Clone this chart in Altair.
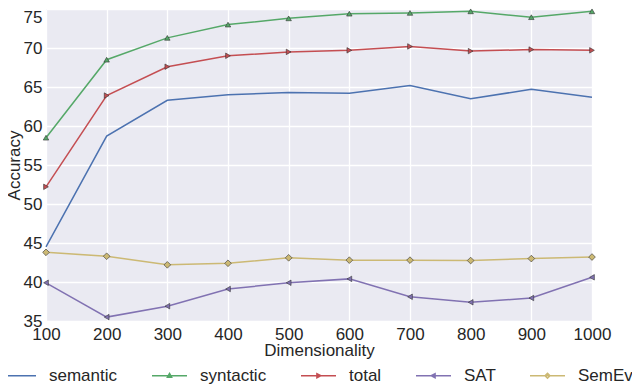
import altair as alt
import pandas as pd

dims = [100, 200, 300, 400, 500, 600, 700, 800, 900, 1000]
y_ticks = [35, 40, 45, 50, 55, 60, 65, 70, 75]
series_names = ["semantic", "syntactic", "total", "SAT", "SemEval"]
semantic = [44.5, 58.7, 63.3, 64.0, 64.3, 64.2, 65.2, 63.5, 64.7, 63.7]
syntactic = [58.5, 68.5, 71.3, 73.0, 73.8, 74.4, 74.5, 74.7, 73.95, 74.7]
total = [52.2, 63.9, 67.6, 69.0, 69.5, 69.7, 70.2, 69.6, 69.8, 69.7]
sat = [39.9, 35.5, 36.9, 39.1, 39.9, 40.4, 38.1, 37.4, 37.95, 40.6]
semeval = [43.8, 43.3, 42.2, 42.4, 43.1, 42.8, 42.8, 42.75, 43.0, 43.2]
colors = ["#4C72B0", "#55A868", "#C44E52", "#8172B2", "#CCB974"]
shapes = [None, "triangle-up", "triangle-right", "triangle-left", "diamond"]
marker_sizes = [0, 30, 30, 30, 45]

values = [semantic, syntactic, total, sat, semeval]
rows = []
for name, vals in zip(series_names, values):
    for d, v in zip(dims, vals):
        rows.append({"dim": d, "acc": v, "series": name})
df = pd.DataFrame(rows)

FONT = "Liberation Sans"
TXT = "#262626"

legend_shape = (
    "datum.value == 'syntactic' ? 'M-1,0H1M0,-0.13L0.12,0.09L-0.12,0.09Z' : "
    "datum.value == 'total' ? 'M-1,0H1M0.13,0L-0.09,-0.12L-0.09,0.12Z' : "
    "datum.value == 'SAT' ? 'M-1,0H1M-0.13,0L0.09,-0.12L0.09,0.12Z' : "
    "datum.value == 'SemEval' ? 'M-1,0H1M0,-0.14L0.14,0L0,0.14L-0.14,0Z' : 'M-1,0H1'"
)

x_enc = alt.X(
    "dim:Q",
    scale=alt.Scale(domain=[100, 1000], nice=False, zero=False),
    axis=alt.Axis(
        values=dims, format="d", title="Dimensionality", labelFontSize=17, titleFontSize=17,
        labelPadding=5, titlePadding=0, tickSize=0, domain=False, labelOverlap=False,
        labelFlush=False, labelBound=False,
        gridColor="white", gridWidth=1.3, labelColor=TXT, titleColor=TXT,
        titleFontWeight="normal", labelFont=FONT, titleFont=FONT,
    ),
)
y_enc = alt.Y(
    "acc:Q",
    scale=alt.Scale(domain=[35, 75], nice=False, zero=False),
    axis=alt.Axis(
        values=y_ticks, title="Accuracy",
        labelFontSize=17, titleFontSize=17, labelPadding=4, titlePadding=0,
        tickSize=0, domain=False, gridColor="white", gridWidth=1.3, labelOverlap=False,
        labelFlush=False, labelBound=False,
        labelBaseline={"condition": {"test": "datum.value == 75", "value": "top"}, "value": "middle"},
        labelColor=TXT, titleColor=TXT, titleFontWeight="normal",
        labelFont=FONT, titleFont=FONT,
    ),
)

lines = alt.Chart(df).mark_line(strokeWidth=1.5).encode(
    x=x_enc,
    y=y_enc,
    color=alt.Color(
        "series:N",
        scale=alt.Scale(domain=series_names, range=colors),
        sort=series_names,
        legend=alt.Legend(
            title=None, orient="none", direction="horizontal",
            legendX=-46, legendY=348, padding=0,
            symbolType={"expr": legend_shape}, symbolSize=1225,
            symbolStrokeWidth=1.5, labelOffset=12, columnPadding=31,
            labelFontSize=17, labelFont=FONT, labelColor=TXT, labelLimit=200,
        ),
    ),
    detail="series:N",
    order="dim:Q",
)

layers = [lines]
for name, col, shp, sz in zip(series_names, colors, shapes, marker_sizes):
    if shp is None:
        continue
    layers.append(
        alt.Chart(df)
        .transform_filter(alt.datum.series == name)
        .mark_point(filled=True, shape=shp, size=sz, fill=col, stroke="#333333",
                    strokeWidth=0.6, opacity=1)
        .encode(x=x_enc, y=y_enc)
    )

chart = (
    alt.layer(*layers)
    .properties(
        width=546, height=312,
        autosize=alt.AutoSizeParams(type="none"),
        padding={"left": 38, "top": 1, "right": 40, "bottom": 64},
        background="white",
    )
    .configure_view(fill="#EAEAF2", stroke=None)
)

chart.save("out.html", embed_options={"renderer": "svg", "actions": False})
